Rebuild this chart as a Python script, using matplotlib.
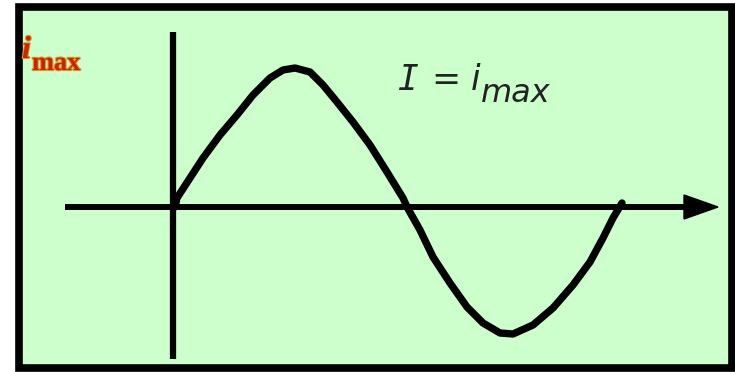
import matplotlib
matplotlib.use("Agg")
import matplotlib.pyplot as plt
from matplotlib.patches import Rectangle, FancyArrow
import matplotlib.patheffects as pe

# Curve values (t: time offset, i: current), origin at the axes crossing
t_vals = [1, 3, 16, 29, 46, 63, 79, 96, 109, 121, 136, 149, 163, 179, 196, 213, 229, 233,
          246, 259, 276, 293, 309, 326, 339, 359, 379, 399, 416, 429, 439, 448]
i_vals = [0, 9, 29, 49, 72, 92, 112, 129, 137, 139, 135, 122, 105, 85, 62, 35, 9, 0,
          -23, -50, -76, -100, -116, -126, -127, -118, -101, -78, -55, -31, -11, 4]

eq_parts = ['I', '=', 'i']
eq_sub = 'max'
label_i = 'i'
label_sub = 'max'

fig = plt.figure(figsize=(7.35, 3.72), dpi=100)
ax = fig.add_axes([0, 0, 1, 1])
ax.set_xlim(-174, 561)
ax.set_ylim(-165, 207)
ax.axis('off')

# background box
ax.add_patch(Rectangle((-155, -161), 713, 361, facecolor='#ccffcc', edgecolor='black', linewidth=5.5, zorder=0))

# axes
ax.plot([-1, -1], [175, -152], color='black', linewidth=4.5, solid_capstyle='butt', zorder=2)
ax.plot([-109, 515], [0, 0], color='black', linewidth=4.3, solid_capstyle='butt', zorder=2)
ax.add_patch(FancyArrow(510, 0, 34, 0, width=0, head_width=24, head_length=34,
                        length_includes_head=True, color='black', zorder=3))

# curve
ax.plot(t_vals, i_vals, color='black', linewidth=5.3, solid_joinstyle='round', solid_capstyle='round', zorder=4)

# equation text
eq_color = '#222222'
eq_font = dict(family='DejaVu Sans', style='oblique', fontsize=25, color=eq_color, va='baseline', ha='left')
ax.text(223, 117, eq_parts[0], **{**eq_font, 'family': 'DejaVu Sans Mono'})
ax.text(257, 117, eq_parts[1], **eq_font)
ax.text(297, 117, eq_parts[2], **eq_font)
ax.text(307, 105, eq_sub, **{**eq_font, 'fontsize': 23})

# i_max label (top-left)
fx = [pe.Stroke(linewidth=1.6, foreground='#d89a30'), pe.Normal()]
ax.text(-152, 149, label_i, family='Liberation Serif', style='italic', weight='bold', fontsize=23,
        color='#cc2200', va='baseline', ha='left', path_effects=fx)
ax.text(-142, 137, label_sub, family='Liberation Serif', weight='bold', fontsize=19,
        color='#cc2200', va='baseline', ha='left', path_effects=fx)

fig.savefig('out.png', dpi=100)
